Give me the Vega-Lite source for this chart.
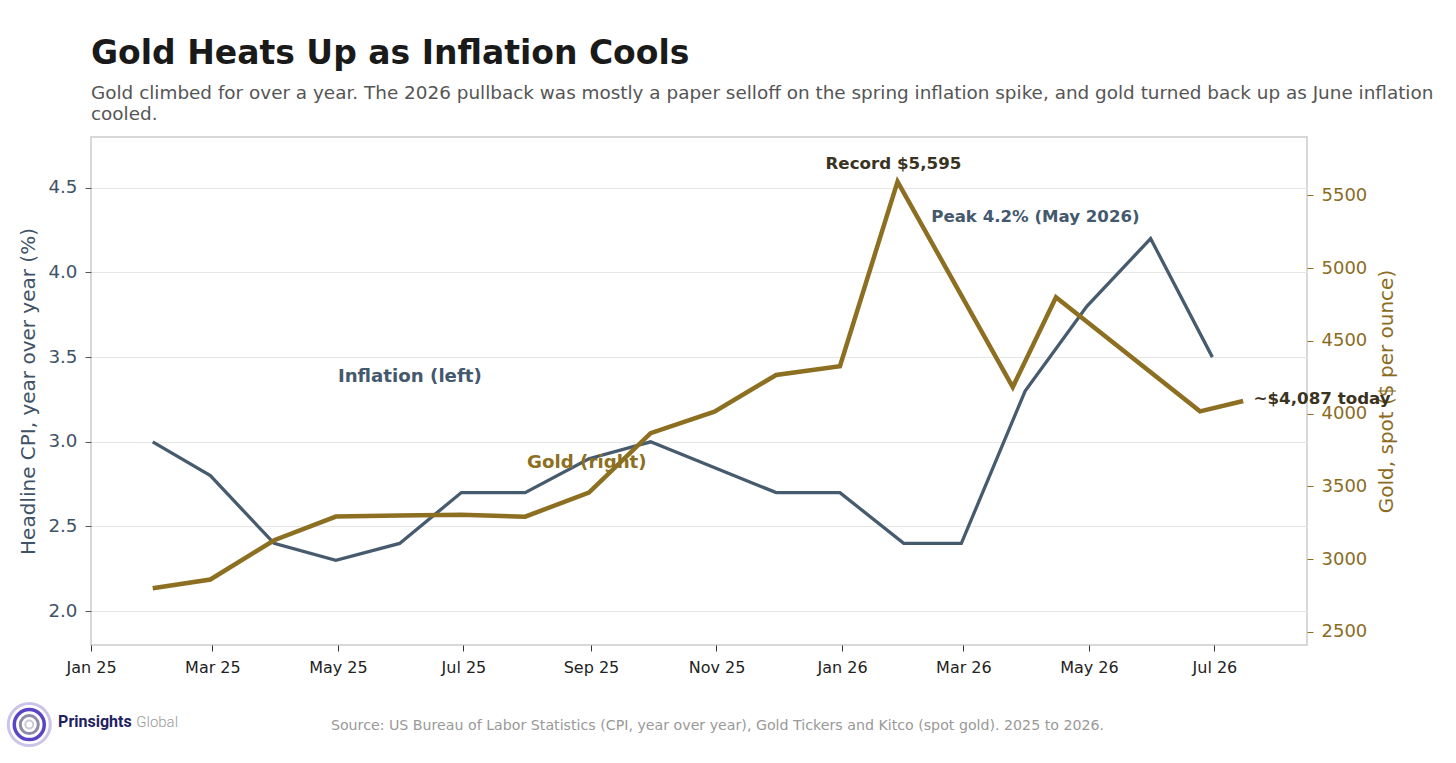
{
  "$schema": "https://vega.github.io/schema/vega-lite/v6.json",
  "description": "Gold price vs headline CPI inflation, 2025 to 2026",
  "autosize": {"type": "none"},
  "width": 1216,
  "height": 508,
  "padding": {"left": 91, "top": 137, "right": 149, "bottom": 118},
  "background": "white",
  "title": {
    "text": "Gold Heats Up as Inflation Cools",
    "subtitle": [
      "Gold climbed for over a year. The 2026 pullback was mostly a paper selloff on the spring inflation spike, and gold turned back up as June inflation",
      "cooled."
    ],
    "anchor": "start",
    "frame": "group",
    "font": "DejaVu Sans",
    "fontSize": 33,
    "fontWeight": "bold",
    "color": "#1a1a1a",
    "subtitleFont": "DejaVu Sans",
    "subtitleFontSize": 18.4,
    "subtitleColor": "#555555",
    "subtitleLineHeight": 21,
    "subtitlePadding": 13,
    "offset": 14
  },
  "datasets": {
    "cpi": [
      {"date": "2025-01-31", "cpi": 3.0},
      {"date": "2025-02-28", "cpi": 2.8},
      {"date": "2025-03-31", "cpi": 2.4},
      {"date": "2025-04-30", "cpi": 2.3},
      {"date": "2025-05-31", "cpi": 2.4},
      {"date": "2025-06-30", "cpi": 2.7},
      {"date": "2025-07-31", "cpi": 2.7},
      {"date": "2025-08-31", "cpi": 2.9},
      {"date": "2025-09-30", "cpi": 3.0},
      {"date": "2025-11-30", "cpi": 2.7},
      {"date": "2025-12-31", "cpi": 2.7},
      {"date": "2026-01-31", "cpi": 2.4},
      {"date": "2026-02-28", "cpi": 2.4},
      {"date": "2026-03-31", "cpi": 3.3},
      {"date": "2026-04-30", "cpi": 3.8},
      {"date": "2026-05-31", "cpi": 4.2},
      {"date": "2026-06-30", "cpi": 3.5}
    ],
    "gold": [
      {"date": "2025-01-31", "gold": 2800},
      {"date": "2025-02-28", "gold": 2860},
      {"date": "2025-03-31", "gold": 3130},
      {"date": "2025-04-30", "gold": 3293},
      {"date": "2025-05-31", "gold": 3300},
      {"date": "2025-06-30", "gold": 3305},
      {"date": "2025-07-31", "gold": 3292},
      {"date": "2025-08-31", "gold": 3458},
      {"date": "2025-09-30", "gold": 3866},
      {"date": "2025-10-31", "gold": 4014},
      {"date": "2025-11-30", "gold": 4266},
      {"date": "2025-12-31", "gold": 4327},
      {"date": "2026-01-28", "gold": 5595},
      {"date": "2026-03-25", "gold": 4183},
      {"date": "2026-04-15", "gold": 4800},
      {"date": "2026-06-24", "gold": 4016},
      {"date": "2026-07-15", "gold": 4087}
    ],
    "inflationLabel": [
      {"date": "2025-05-01", "cpi": 3.38, "label": "Inflation (left)"}
    ],
    "peakLabel": [
      {"date": "2026-04-05", "cpi": 4.33, "label": "Peak 4.2% (May 2026)"}
    ],
    "goldLabel": [
      {"date": "2025-08-30", "gold": 3662, "label": "Gold (right)"}
    ],
    "recordLabel": [
      {"date": "2026-01-26", "gold": 5717, "label": "Record $5,595"}
    ],
    "todayLabel": [
      {"date": "2026-07-20", "gold": 4100, "label": "~$4,087 today"}
    ],
    "logo": [
      {"date": "2024-12-02", "cpi": 1.33}
    ],
    "logoName": [
      {"date": "2024-12-16", "cpi": 1.344, "word": "Prinsights"}
    ],
    "logoSuffix": [
      {"date": "2025-01-23", "cpi": 1.344, "word": "Global"}
    ]
  },
  "encoding": {
    "x": {
      "field": "date",
      "type": "temporal",
      "scale": {
        "domain": [{"year": 2025, "month": 1, "date": 1}, {"year": 2026, "month": 8, "date": 15}],
        "nice": false
      },
      "axis": {
        "values": [
          {"year": 2025, "month": 1, "date": 1},
          {"year": 2025, "month": 3, "date": 1},
          {"year": 2025, "month": 5, "date": 1},
          {"year": 2025, "month": 7, "date": 1},
          {"year": 2025, "month": 9, "date": 1},
          {"year": 2025, "month": 11, "date": 1},
          {"year": 2026, "month": 1, "date": 1},
          {"year": 2026, "month": 3, "date": 1},
          {"year": 2026, "month": 5, "date": 1},
          {"year": 2026, "month": 7, "date": 1}
        ],
        "format": "%b %y",
        "grid": false,
        "domain": false,
        "tickColor": "#333333",
        "tickSize": 6,
        "labelFontSize": 16,
        "labelColor": "#222222",
        "labelPadding": 8,
        "labelFlush": false,
        "title": "Source: US Bureau of Labor Statistics (CPI, year over year), Gold Tickers and Kitco (spot gold). 2025 to 2026.",
        "titleFontSize": 14.2,
        "titleFontWeight": "normal",
        "titleColor": "#999999",
        "titleX": 626,
        "titleY": 80,
        "titleAlign": "center",
        "titleBaseline": "middle"
      }
    }
  },
  "layer": [
    {
      "layer": [
        {
          "data": {"name": "cpi"},
          "mark": {"type": "line", "color": "#475b6e", "strokeWidth": 3.3},
          "encoding": {
            "y": {
              "field": "cpi",
              "type": "quantitative",
              "scale": {"domain": [1.8, 4.8], "nice": false, "zero": false},
              "axis": {
                "orient": "left",
                "values": [2.0, 2.5, 3.0, 3.5, 4.0, 4.5],
                "format": ".1f",
                "grid": true,
                "gridColor": "#e6e6e6",
                "gridWidth": 1,
                "domain": false,
                "tickColor": "#555555",
                "tickSize": 6,
                "labelFontSize": 18.3,
                "labelColor": "#3f5367",
                "labelPadding": 8,
                "title": "Headline CPI, year over year (%)",
                "titleFontSize": 20,
                "titleFontWeight": "normal",
                "titleColor": "#3f5367",
                "titleAngle": 270,
                "titleX": -63,
                "titleY": 254,
                "titleAlign": "center",
                "titleBaseline": "middle"
              }
            }
          }
        },
        {
          "data": {"name": "inflationLabel"},
          "mark": {"type": "text", "fontSize": 18.2, "fontWeight": "bold", "color": "#44596d", "align": "left", "baseline": "middle"},
          "encoding": {
            "y": {"field": "cpi", "type": "quantitative"},
            "text": {"field": "label"}
          }
        },
        {
          "data": {"name": "peakLabel"},
          "mark": {"type": "text", "fontSize": 16.6, "fontWeight": "bold", "color": "#44596d", "align": "center", "baseline": "middle"},
          "encoding": {
            "y": {"field": "cpi", "type": "quantitative"},
            "text": {"field": "label"}
          }
        },
        {
          "data": {"name": "logo"},
          "mark": {"type": "point", "shape": "circle", "filled": false, "size": 1764, "stroke": "#cbc4e8", "strokeWidth": 3, "opacity": 1},
          "encoding": {
            "y": {"field": "cpi", "type": "quantitative"}
          }
        },
        {
          "data": {"name": "logo"},
          "mark": {"type": "point", "shape": "circle", "filled": false, "size": 900, "stroke": "#5b44c6", "strokeWidth": 3.5, "opacity": 1},
          "encoding": {
            "y": {"field": "cpi", "type": "quantitative"}
          }
        },
        {
          "data": {"name": "logo"},
          "mark": {"type": "point", "shape": "circle", "filled": false, "size": 324, "stroke": "#8e8aa8", "strokeWidth": 3, "opacity": 1},
          "encoding": {
            "y": {"field": "cpi", "type": "quantitative"}
          }
        },
        {
          "data": {"name": "logo"},
          "mark": {"type": "point", "shape": "circle", "filled": false, "size": 64, "stroke": "#c9c9d6", "strokeWidth": 2, "opacity": 1},
          "encoding": {
            "y": {"field": "cpi", "type": "quantitative"}
          }
        },
        {
          "data": {"name": "logoName"},
          "mark": {"type": "text", "font": "Roboto", "fontSize": 16, "fontWeight": "bold", "color": "#1e2160", "align": "left", "baseline": "middle"},
          "encoding": {
            "y": {"field": "cpi", "type": "quantitative"},
            "text": {"field": "word"}
          }
        },
        {
          "data": {"name": "logoSuffix"},
          "mark": {"type": "text", "font": "Roboto", "fontSize": 15, "fontWeight": 300, "color": "#9a9a9a", "align": "left", "baseline": "middle"},
          "encoding": {
            "y": {"field": "cpi", "type": "quantitative"},
            "text": {"field": "word"}
          }
        }
      ]
    },
    {
      "layer": [
        {
          "data": {"name": "gold"},
          "mark": {"type": "line", "color": "#8d6f22", "strokeWidth": 4.5},
          "encoding": {
            "y": {
              "field": "gold",
              "type": "quantitative",
              "scale": {"domain": [2410, 5902], "nice": false, "zero": false},
              "axis": {
                "orient": "right",
                "values": [2500, 3000, 3500, 4000, 4500, 5000, 5500],
                "format": "d",
                "grid": false,
                "domain": false,
                "tickColor": "#8b6c1f",
                "tickSize": 6,
                "labelFontSize": 18,
                "labelColor": "#8b6c1f",
                "labelPadding": 8,
                "title": "Gold, spot ($ per ounce)",
                "titleFontSize": 20,
                "titleFontWeight": "normal",
                "titleColor": "#8b6c1f",
                "titleAngle": 270,
                "titleX": 79,
                "titleY": 254,
                "titleAlign": "center",
                "titleBaseline": "middle"
              }
            }
          }
        },
        {
          "data": {"name": "goldLabel"},
          "mark": {"type": "text", "fontSize": 18.2, "fontWeight": "bold", "color": "#8d6f22", "align": "center", "baseline": "middle"},
          "encoding": {
            "y": {"field": "gold", "type": "quantitative"},
            "text": {"field": "label"}
          }
        },
        {
          "data": {"name": "recordLabel"},
          "mark": {"type": "text", "fontSize": 16.7, "fontWeight": "bold", "color": "#3b3322", "align": "center", "baseline": "middle"},
          "encoding": {
            "y": {"field": "gold", "type": "quantitative"},
            "text": {"field": "label"}
          }
        },
        {
          "data": {"name": "todayLabel"},
          "mark": {"type": "text", "fontSize": 16.7, "fontWeight": "bold", "color": "#3b3322", "align": "left", "baseline": "middle"},
          "encoding": {
            "y": {"field": "gold", "type": "quantitative"},
            "text": {"field": "label"}
          }
        }
      ]
    }
  ],
  "resolve": {"scale": {"y": "independent"}},
  "config": {
    "font": "DejaVu Sans",
    "view": {"stroke": "#cccccc", "strokeWidth": 1.5}
  }
}
